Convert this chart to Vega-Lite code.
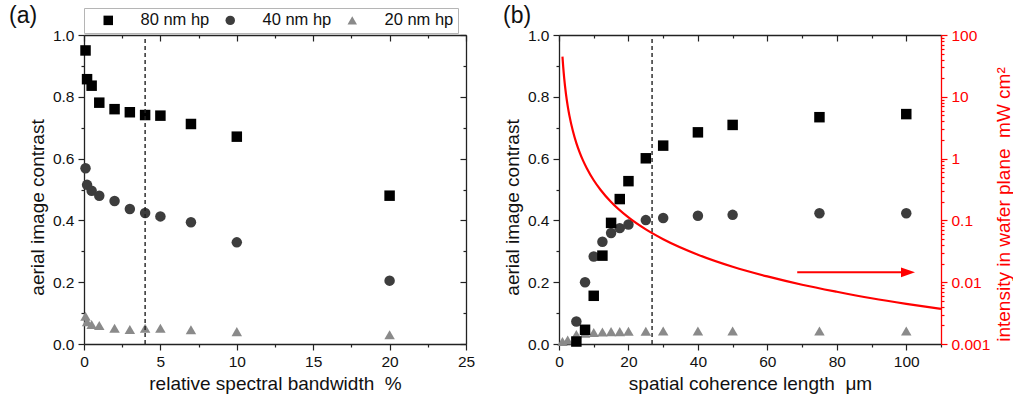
{
  "$schema": "https://vega.github.io/schema/vega-lite/v6.json",
  "padding": {"left": 9, "top": 5, "right": 0, "bottom": 0},
  "bounds": "flush",
  "spacing": 93,
  "config": {
    "font": "Liberation Sans",
    "view": {"stroke": null},
    "axis": {
      "grid": false,
      "domainColor": "#222222",
      "domainWidth": 1.3,
      "tickColor": "#222222",
      "tickWidth": 1.2,
      "labelFont": "Liberation Sans",
      "labelFontSize": 15.5,
      "labelColor": "#111111",
      "titleFont": "Liberation Sans",
      "titleFontSize": 19,
      "titleFontWeight": "normal",
      "titleColor": "#111111",
      "labelPadding": 4,
      "titlePadding": 5,
      "labelOverlap": false,
      "labelFlush": false,
      "labelBound": false
    },
    "legend": {
      "labelFont": "Liberation Sans",
      "labelFontSize": 16.5,
      "labelColor": "#111111"
    }
  },
  "hconcat": [
    {
      "width": 382,
      "height": 309,
      "title": {"text": "(a)", "anchor": "start", "frame": "group", "dx": -75, "offset": 0, "fontSize": 23, "fontWeight": "normal", "font": "Liberation Sans", "color": "#111111"},
      "resolve": {"axis": {"x": "independent", "y": "independent"}},
      "layer": [
        {
          "data": {"values": [
            {"bw": 0.1, "c": 0.09, "s": "20 nm hp"},
            {"bw": 0.2, "c": 0.072, "s": "20 nm hp"},
            {"bw": 0.5, "c": 0.063, "s": "20 nm hp"},
            {"bw": 1, "c": 0.06, "s": "20 nm hp"},
            {"bw": 2, "c": 0.051, "s": "20 nm hp"},
            {"bw": 3, "c": 0.047, "s": "20 nm hp"},
            {"bw": 4, "c": 0.051, "s": "20 nm hp"},
            {"bw": 5, "c": 0.051, "s": "20 nm hp"},
            {"bw": 7, "c": 0.046, "s": "20 nm hp"},
            {"bw": 10, "c": 0.04, "s": "20 nm hp"},
            {"bw": 20, "c": 0.03, "s": "20 nm hp"},
            {"bw": 0.1, "c": 0.569, "s": "40 nm hp"},
            {"bw": 0.2, "c": 0.515, "s": "40 nm hp"},
            {"bw": 0.5, "c": 0.496, "s": "40 nm hp"},
            {"bw": 1, "c": 0.48, "s": "40 nm hp"},
            {"bw": 2, "c": 0.463, "s": "40 nm hp"},
            {"bw": 3, "c": 0.437, "s": "40 nm hp"},
            {"bw": 4, "c": 0.424, "s": "40 nm hp"},
            {"bw": 5, "c": 0.413, "s": "40 nm hp"},
            {"bw": 7, "c": 0.394, "s": "40 nm hp"},
            {"bw": 10, "c": 0.329, "s": "40 nm hp"},
            {"bw": 20, "c": 0.205, "s": "40 nm hp"},
            {"bw": 0.1, "c": 0.95, "s": "80 nm hp"},
            {"bw": 0.2, "c": 0.857, "s": "80 nm hp"},
            {"bw": 0.5, "c": 0.836, "s": "80 nm hp"},
            {"bw": 1, "c": 0.781, "s": "80 nm hp"},
            {"bw": 2, "c": 0.76, "s": "80 nm hp"},
            {"bw": 3, "c": 0.75, "s": "80 nm hp"},
            {"bw": 4, "c": 0.741, "s": "80 nm hp"},
            {"bw": 5, "c": 0.739, "s": "80 nm hp"},
            {"bw": 7, "c": 0.712, "s": "80 nm hp"},
            {"bw": 10, "c": 0.671, "s": "80 nm hp"},
            {"bw": 20, "c": 0.48, "s": "80 nm hp"}
          ]},
          "mark": {"type": "point", "filled": true, "opacity": 1, "size": 110},
          "encoding": {
            "x": {"field": "bw", "type": "quantitative", "scale": {"domain": [0, 25], "nice": false, "zero": false},
              "axis": {"orient": "bottom", "title": "relative spectral bandwidth\u00a0\u00a0%", "values": [0, 2.5, 5, 7.5, 10, 12.5, 15, 17.5, 20, 22.5, 25], "format": "d",
                "labelExpr": "datum.value % 5 === 0 ? datum.label : ''",
                "tickSize": {"condition": {"test": "datum.value % 5 === 0", "value": 6}, "value": 3}}},
            "y": {"field": "c", "type": "quantitative", "scale": {"domain": [0, 1], "nice": false},
              "axis": {"orient": "left", "title": "aerial image contrast", "titleY": 172, "values": [0, 0.1, 0.2, 0.3, 0.4, 0.5, 0.6, 0.7, 0.8, 0.9, 1],
                "labelExpr": "round(datum.value * 10) % 2 === 0 ? format(datum.value, '.1f') : ''",
                "tickSize": {"condition": {"test": "round(datum.value * 10) % 2 === 0", "value": 6}, "value": 3}}},
            "color": {"field": "s", "type": "nominal", "scale": {"domain": ["80 nm hp", "40 nm hp", "20 nm hp"], "range": ["#000000", "#3d3d3d", "#8a8a8a"]},
              "legend": {"orient": "none", "legendX": 0, "legendY": -27, "direction": "horizontal", "title": null, "strokeColor": "#b5b5b5", "fillColor": "#ffffff", "padding": 4, "symbolSize": 90, "labelOffset": 24, "columnPadding": 0, "symbolOffset": 12}},
            "shape": {"field": "s", "type": "nominal", "scale": {"domain": ["80 nm hp", "40 nm hp", "20 nm hp"], "range": ["square", "circle", "triangle-up"]},
              "legend": {"orient": "none", "legendX": 0, "legendY": -27, "direction": "horizontal", "title": null, "strokeColor": "#b5b5b5", "fillColor": "#ffffff", "padding": 4, "symbolSize": 90, "labelOffset": 24, "columnPadding": 0, "symbolOffset": 12}}
          }
        },
        {
          "data": {"values": [{"x": 4, "y0": 0, "y1": 1}]},
          "mark": {"type": "rule", "strokeDash": [4, 3], "color": "#222222", "strokeWidth": 1.4},
          "encoding": {
            "x": {"field": "x", "type": "quantitative", "scale": {"domain": [0, 25], "nice": false, "zero": false},
              "axis": {"orient": "top", "title": null, "labels": false, "values": [0, 2.5, 5, 7.5, 10, 12.5, 15, 17.5, 20, 22.5, 25],
                "tickSize": {"condition": {"test": "datum.value % 5 === 0", "value": -6}, "value": -3}}},
            "y": {"field": "y0", "type": "quantitative", "scale": {"domain": [0, 1], "nice": false},
              "axis": {"orient": "right", "title": null, "labels": false, "values": [0, 0.1, 0.2, 0.3, 0.4, 0.5, 0.6, 0.7, 0.8, 0.9, 1],
                "tickSize": {"condition": {"test": "round(datum.value * 10) % 2 === 0", "value": -6}, "value": -3}}},
            "y2": {"field": "y1"}
          }
        }
      ]
    },
    {
      "width": 382,
      "height": 309,
      "title": {"text": "(b)", "anchor": "start", "frame": "group", "dx": -56, "offset": 0, "fontSize": 23, "fontWeight": "normal", "font": "Liberation Sans", "color": "#111111"},
      "resolve": {"scale": {"y": "independent"}, "axis": {"x": "independent", "y": "independent"}},
      "layer": [
        {
          "data": {"values": [
            {"L": 1, "c": 0.008, "s": "20 nm hp"},
            {"L": 2.5, "c": 0.013, "s": "20 nm hp"},
            {"L": 5, "c": 0.031, "s": "20 nm hp"},
            {"L": 7.5, "c": 0.035, "s": "20 nm hp"},
            {"L": 10, "c": 0.037, "s": "20 nm hp"},
            {"L": 12.5, "c": 0.039, "s": "20 nm hp"},
            {"L": 15, "c": 0.04, "s": "20 nm hp"},
            {"L": 17.5, "c": 0.04, "s": "20 nm hp"},
            {"L": 20, "c": 0.041, "s": "20 nm hp"},
            {"L": 25, "c": 0.041, "s": "20 nm hp"},
            {"L": 30, "c": 0.042, "s": "20 nm hp"},
            {"L": 40, "c": 0.042, "s": "20 nm hp"},
            {"L": 50, "c": 0.042, "s": "20 nm hp"},
            {"L": 75, "c": 0.042, "s": "20 nm hp"},
            {"L": 100, "c": 0.042, "s": "20 nm hp"},
            {"L": 5, "c": 0.073, "s": "40 nm hp"},
            {"L": 7.5, "c": 0.2, "s": "40 nm hp"},
            {"L": 10, "c": 0.283, "s": "40 nm hp"},
            {"L": 12.5, "c": 0.331, "s": "40 nm hp"},
            {"L": 15, "c": 0.359, "s": "40 nm hp"},
            {"L": 17.5, "c": 0.375, "s": "40 nm hp"},
            {"L": 20, "c": 0.387, "s": "40 nm hp"},
            {"L": 25, "c": 0.401, "s": "40 nm hp"},
            {"L": 30, "c": 0.408, "s": "40 nm hp"},
            {"L": 40, "c": 0.415, "s": "40 nm hp"},
            {"L": 50, "c": 0.418, "s": "40 nm hp"},
            {"L": 75, "c": 0.423, "s": "40 nm hp"},
            {"L": 100, "c": 0.423, "s": "40 nm hp"},
            {"L": 5, "c": 0.008, "s": "80 nm hp"},
            {"L": 7.5, "c": 0.046, "s": "80 nm hp"},
            {"L": 10, "c": 0.156, "s": "80 nm hp"},
            {"L": 12.5, "c": 0.286, "s": "80 nm hp"},
            {"L": 15, "c": 0.392, "s": "80 nm hp"},
            {"L": 17.5, "c": 0.469, "s": "80 nm hp"},
            {"L": 20, "c": 0.527, "s": "80 nm hp"},
            {"L": 25, "c": 0.601, "s": "80 nm hp"},
            {"L": 30, "c": 0.642, "s": "80 nm hp"},
            {"L": 40, "c": 0.685, "s": "80 nm hp"},
            {"L": 50, "c": 0.709, "s": "80 nm hp"},
            {"L": 75, "c": 0.734, "s": "80 nm hp"},
            {"L": 100, "c": 0.744, "s": "80 nm hp"}
          ]},
          "mark": {"type": "point", "filled": true, "opacity": 1, "size": 110},
          "encoding": {
            "x": {"field": "L", "type": "quantitative", "scale": {"domain": [0, 110], "nice": false, "zero": false},
              "axis": {"orient": "bottom", "title": "spatial coherence length\u00a0\u00a0μm", "values": [0, 10, 20, 30, 40, 50, 60, 70, 80, 90, 100, 110], "format": "d",
                "labelExpr": "datum.value % 20 === 0 ? datum.label : ''",
                "tickSize": {"condition": {"test": "datum.value % 20 === 0", "value": 6}, "value": 3}}},
            "y": {"field": "c", "type": "quantitative", "scale": {"domain": [0, 1], "nice": false},
              "axis": {"orient": "left", "title": "aerial image contrast", "titleY": 172, "values": [0, 0.1, 0.2, 0.3, 0.4, 0.5, 0.6, 0.7, 0.8, 0.9, 1],
                "labelExpr": "round(datum.value * 10) % 2 === 0 ? format(datum.value, '.1f') : ''",
                "tickSize": {"condition": {"test": "round(datum.value * 10) % 2 === 0", "value": 6}, "value": 3}}},
            "color": {"field": "s", "type": "nominal", "scale": {"domain": ["80 nm hp", "40 nm hp", "20 nm hp"], "range": ["#000000", "#3d3d3d", "#8a8a8a"]},
              "legend": {"orient": "none", "legendX": 0, "legendY": -27, "direction": "horizontal", "title": null, "strokeColor": "#b5b5b5", "fillColor": "#ffffff", "padding": 4, "symbolSize": 90, "labelOffset": 24, "columnPadding": 0, "symbolOffset": 12}},
            "shape": {"field": "s", "type": "nominal", "scale": {"domain": ["80 nm hp", "40 nm hp", "20 nm hp"], "range": ["square", "circle", "triangle-up"]},
              "legend": {"orient": "none", "legendX": 0, "legendY": -27, "direction": "horizontal", "title": null, "strokeColor": "#b5b5b5", "fillColor": "#ffffff", "padding": 4, "symbolSize": 90, "labelOffset": 24, "columnPadding": 0, "symbolOffset": 12}}
          }
        },
        {
          "data": {"values": [{"x": 26.8, "y0": 0, "y1": 1}]},
          "mark": {"type": "rule", "strokeDash": [4, 3], "color": "#222222", "strokeWidth": 1.4},
          "encoding": {
            "x": {"field": "x", "type": "quantitative", "scale": {"domain": [0, 110], "nice": false, "zero": false},
              "axis": {"orient": "top", "title": null, "labels": false, "values": [0, 10, 20, 30, 40, 50, 60, 70, 80, 90, 100, 110],
                "tickSize": {"condition": {"test": "datum.value % 20 === 0", "value": -6}, "value": -3}}},
            "y": {"field": "y0", "type": "quantitative", "scale": {"domain": [0, 1], "nice": false}, "axis": null},
            "y2": {"field": "y1"}
          }
        },
        {
          "data": {"values": [
            {"L": 1, "I": 44.6}, {"L": 1.2, "I": 31}, {"L": 1.5, "I": 19.8}, {"L": 2, "I": 11.15},
            {"L": 2.5, "I": 7.14}, {"L": 3, "I": 4.96}, {"L": 4, "I": 2.79}, {"L": 5, "I": 1.78},
            {"L": 6, "I": 1.24}, {"L": 7, "I": 0.91}, {"L": 8, "I": 0.7}, {"L": 10, "I": 0.446},
            {"L": 12, "I": 0.31}, {"L": 15, "I": 0.198}, {"L": 20, "I": 0.1115}, {"L": 25, "I": 0.0714},
            {"L": 30, "I": 0.0496}, {"L": 40, "I": 0.0279}, {"L": 50, "I": 0.0178}, {"L": 60, "I": 0.0124},
            {"L": 70, "I": 0.0091}, {"L": 80, "I": 0.007}, {"L": 90, "I": 0.0055}, {"L": 100, "I": 0.00446},
            {"L": 110, "I": 0.00369}
          ]},
          "mark": {"type": "line", "color": "#ff0000", "strokeWidth": 2.2, "interpolate": "monotone"},
          "encoding": {
            "x": {"field": "L", "type": "quantitative", "scale": {"domain": [0, 110], "nice": false, "zero": false}, "axis": null},
            "y": {"field": "I", "type": "quantitative", "scale": {"type": "log", "domain": [0.001, 100], "nice": false},
              "axis": {"orient": "right", "title": "intensity in wafer plane\u00a0\u00a0mW cm²", "titleFontSize": 19, "titleAngle": 270, "titleBaseline": "top", "titleY": 169,
                "domainColor": "#ff0000", "tickColor": "#ff0000", "labelColor": "#ff0000", "titleColor": "#ff0000", "format": "~g",
                "values": [0.001, 0.002, 0.003, 0.004, 0.005, 0.006, 0.007, 0.008, 0.009, 0.01, 0.02, 0.03, 0.04, 0.05, 0.06, 0.07, 0.08, 0.09, 0.1, 0.2, 0.3, 0.4, 0.5, 0.6, 0.7, 0.8, 0.9, 1, 2, 3, 4, 5, 6, 7, 8, 9, 10, 20, 30, 40, 50, 60, 70, 80, 90, 100],
                "labelExpr": "abs(log(datum.value) / LN10 - round(log(datum.value) / LN10)) < 0.001 ? datum.label : ''",
                "tickSize": {"condition": {"test": "abs(log(datum.value) / LN10 - round(log(datum.value) / LN10)) < 0.001", "value": 6}, "value": 3}}}
          }
        },
        {
          "data": {"values": [{"x": 68.6, "x2": 99, "y": 0.232}]},
          "mark": {"type": "rule", "color": "#ff0000", "strokeWidth": 2},
          "encoding": {
            "x": {"field": "x", "type": "quantitative", "scale": {"domain": [0, 110], "nice": false, "zero": false}, "axis": null},
            "x2": {"field": "x2"},
            "y": {"field": "y", "type": "quantitative", "scale": {"domain": [0, 1], "nice": false}, "axis": null}
          }
        },
        {
          "data": {"values": [{"x": 100.5, "y": 0.232}]},
          "mark": {"type": "point", "filled": true, "color": "#ff0000", "opacity": 1, "shape": "M -1 -0.7 L 1 0 L -1 0.7 Z", "size": 196},
          "encoding": {
            "x": {"field": "x", "type": "quantitative", "scale": {"domain": [0, 110], "nice": false, "zero": false}, "axis": null},
            "y": {"field": "y", "type": "quantitative", "scale": {"domain": [0, 1], "nice": false}, "axis": null}
          }
        }
      ]
    }
  ]
}
